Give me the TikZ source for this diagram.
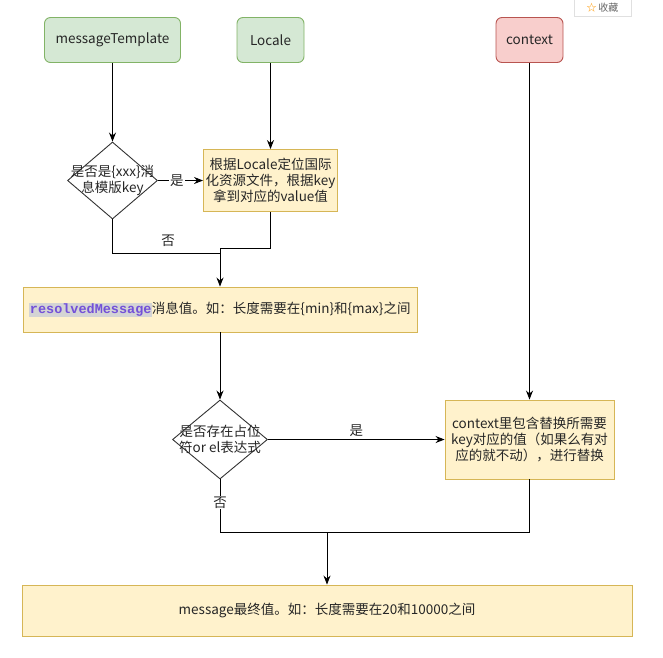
\documentclass[tikz,border=0pt]{standalone}
\usepackage{fontspec}
\setmainfont{Noto Sans CJK SC}
\newfontfamily\codefont{Liberation Mono}
\usepackage{xcolor}
\definecolor{greenfill}{HTML}{D5E8D4}
\definecolor{greenline}{HTML}{82B366}
\definecolor{redfill}{HTML}{F8CECC}
\definecolor{redline}{HTML}{B85450}
\definecolor{notefill}{HTML}{FFF2CC}
\definecolor{noteline}{HTML}{D6B656}
\definecolor{codepurple}{HTML}{7350D8}
\definecolor{codebg}{HTML}{D4D4D4}
\usetikzlibrary{arrows.meta, positioning, shapes.geometric}

\tikzset{
  base/.style={font=\fontsize{13.5}{16}\selectfont, text=black!85},
  startbox/.style={base, draw=greenline, fill=greenfill, rounded corners=6pt,
                   line width=0.9pt, minimum height=45pt, inner sep=0pt},
  ctxstart/.style={startbox, draw=redline, fill=redfill},
  notebox/.style={base, draw=noteline, fill=notefill, line width=0.9pt,
                  inner sep=0pt, align=center},
  decision/.style={diamond, draw=black!80, fill=white, line width=0.9pt,
                   minimum width=90pt, minimum height=77pt, inner sep=0pt},
  flow/.style={draw=black, line width=0.9pt, -{Stealth[length=9pt, width=7pt]}},
  wire/.style={draw=black, line width=0.9pt},
  tag/.style={base, fill=white, inner sep=1pt}
}

\begin{document}
\begin{tikzpicture}[x=1pt, y=-1pt]
  \useasboundingbox (0,0) rectangle (663,657);
  \clip (0,0) rectangle (663,657);

  % start nodes
  \node[startbox, minimum width=136pt] (tmpl) at (112.5,40) {messageTemplate};
  \node[startbox, minimum width=67pt] (locale) at (270.5,40) {Locale};
  \node[ctxstart, minimum width=67pt] (ctx) at (529.5,40) {context};

  % first decision and lookup
  \node[decision] (isKey) at (112.5,180.5) {};
  \node[base, align=center] (isKeyText) at (isKey) {是否是\{xxx\}消\\息模版key};
  \node[notebox, minimum width=134pt, minimum height=62pt] (lookup) at (270.5,180.5)
    {根据Locale定位国际\\化资源文件，根据key\\拿到对应的value值};

  \node[notebox, minimum width=394pt, minimum height=45pt] (resolved) at (220,309.5)
    {{\setlength{\fboxsep}{0.5pt}\colorbox{codebg}{\codefont\bfseries\color{codepurple}resolvedMessage}}消息值。如：长度需要在\{min\}和\{max\}之间};

  % second decision and replacement
  \node[decision, minimum width=95pt, minimum height=79pt] (hasVar) at (220,439.5) {};
  \node[base, align=center] (hasVarText) at (hasVar) {是否存在占位\\符or el表达式};
  \node[notebox, minimum width=169pt, minimum height=79pt] (ctxbox) at (529.5,439.5)
    {context里包含替换所需要\\key对应的值（如果么有对\\应的就不动），进行替换};

  \node[notebox, minimum width=610pt, minimum height=51pt] (final) at (327,610.5)
    {message最终值。如：长度需要在20和10000之间};

  % page widget
  \draw[draw=black!12, fill=white] (574,-2) rectangle (631,16);
  \node[base, font=\fontsize{10}{12}\selectfont, text=black!60, inner sep=0pt] (fav) at (602.5,7.5)
    {{\color{orange!80!yellow}☆}\,收藏};

  % merge points
  \coordinate (noTurn) at (220,253);
  \coordinate (lookTurn) at (220,248);
  \coordinate (mergeR) at (529.5,532);
  \coordinate (mergeMid) at (327,532);

  % connectors
  \draw[flow] (tmpl) -- (isKey);
  \draw[flow] (locale) -- (lookup);
  \draw[flow] (isKey) -- node[tag, pos=0.42] {是} (lookup);
  \draw[wire] (isKey.south) |- (noTurn);
  \draw[wire] (lookup.south) |- (lookTurn);
  \node[base] (noA) at (168,241) {否};
  \draw[flow] (lookTurn) -- (resolved);
  \draw[flow] (resolved) -- (hasVar);
  \draw[flow] (hasVar) -- node[base, above, inner sep=2pt] {是} (ctxbox);
  \draw[flow] (ctx) -- (ctxbox);
  \draw[wire] (hasVar.south) |- node[tag, pos=0.22] {否} (mergeR) -- (ctxbox.south);
  \draw[flow] (mergeMid) -- (final);
\end{tikzpicture}
\end{document}
